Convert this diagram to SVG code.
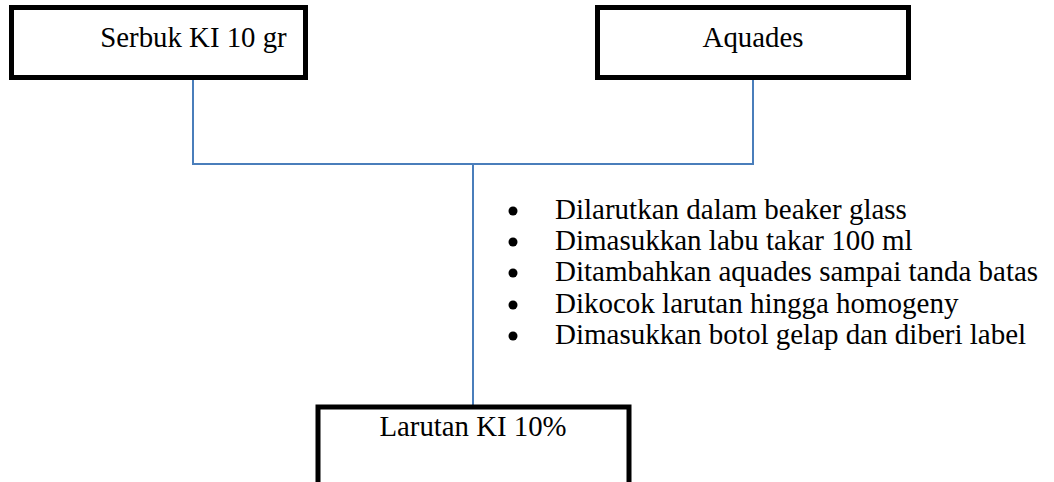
<svg xmlns="http://www.w3.org/2000/svg" width="1054" height="482" viewBox="0 0 1054 482">
<style>
.box{fill:#fff;stroke:#000;stroke-width:5}
.lbl{font-family:"Liberation Serif","Times New Roman",serif;font-size:28.8px;fill:#000}
.conn{stroke:#4a7ebb;stroke-width:2;fill:none}
.bul{font-family:"Liberation Serif","Times New Roman",serif;font-size:29px;fill:#000}
</style>
<g id="connectors">
<path class="conn" d="M193 79 V164 H753 V79 M473 164 V405"/>
</g>
<g id="node-serbuk">
<rect class="box" x="11.5" y="7.5" width="294" height="70"/>
<text class="lbl" x="193.5" y="46.5" text-anchor="middle">Serbuk KI 10 gr</text>
</g>
<g id="node-aquades">
<rect class="box" x="597.5" y="7.5" width="311" height="70"/>
<text class="lbl" x="753" y="46.5" text-anchor="middle">Aquades</text>
</g>
<g id="steps">
<circle cx="513" cy="211" r="4.5"/>
<circle cx="513" cy="242" r="4.5"/>
<circle cx="513" cy="273" r="4.5"/>
<circle cx="513" cy="305" r="4.5"/>
<circle cx="513" cy="336" r="4.5"/>
<text class="bul" x="555" y="219">Dilarutkan dalam beaker glass</text>
<text class="bul" x="555" y="250">Dimasukkan labu takar 100 ml</text>
<text class="bul" x="555" y="281">Ditambahkan aquades sampai tanda batas</text>
<text class="bul" x="555" y="313">Dikocok larutan hingga homogeny</text>
<text class="bul" x="555" y="344">Dimasukkan botol gelap dan diberi label</text>
</g>
<g id="node-larutan">
<rect class="box" x="318" y="407" width="311" height="90"/>
<text class="lbl" x="473" y="436" text-anchor="middle">Larutan KI 10%</text>
</g>
</svg>
